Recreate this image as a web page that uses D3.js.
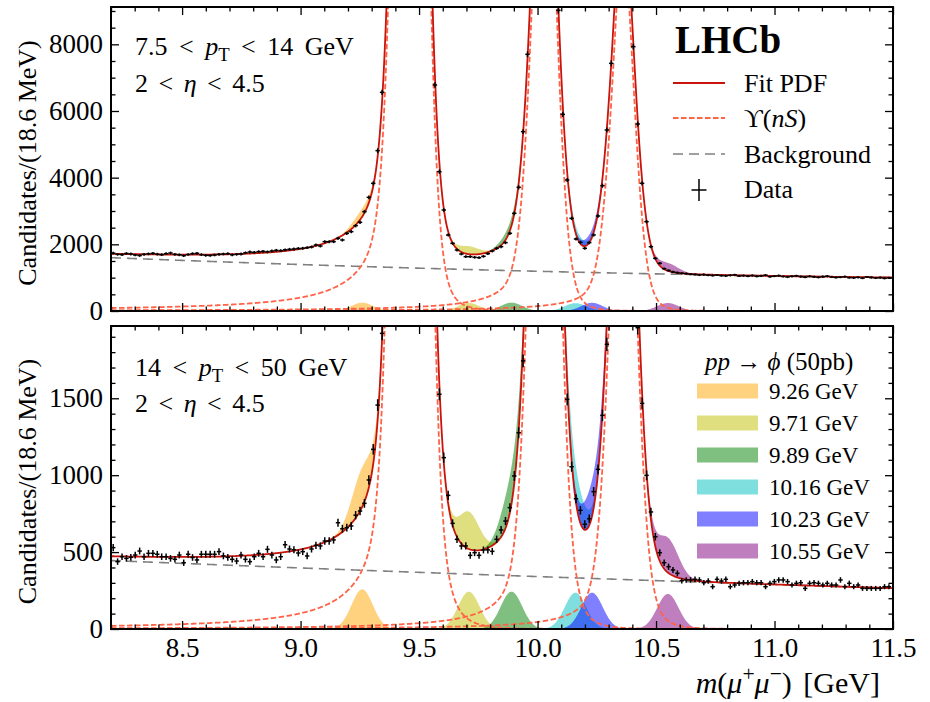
<!DOCTYPE html>
<html>
<head>
<meta charset="utf-8">
<script src="https://cdn.jsdelivr.net/npm/d3@7"></script>
<style>
	body { margin: 0; background: #fff; }
	text { white-space: pre; }
</style>
</head>
<body>
<svg id="chart" width="930" height="702"></svg>
<script>
// binning of the mass histogram
const binStart = 8.2;
const binWidth = 0.0186;

// candidates per bin, 7.5 < pT < 14 GeV
const countsTop = [
	1735, 1700, 1690, 1725, 1710, 1680, 1665, 1700, 1715, 1730,
	1705, 1690, 1720, 1740, 1700, 1685, 1660, 1695, 1720, 1730,
	1690, 1670, 1665, 1680, 1700, 1710, 1720, 1685, 1700, 1710,
	1745, 1770, 1760, 1780, 1790, 1775, 1800, 1820, 1810, 1835,
	1850, 1860, 1875, 1880, 1900, 1920, 1980, 1950, 2080, 2080,
	2080, 2180, 2130, 2330, 2380, 2560, 2660, 2980, 3410, 3830,
	4810, 6560, 9370, 14050, 20500, 29000, 38800, 45700, 43700, 36100,
	26500, 17600, 10960, 6780, 4180, 3030, 2280, 2030, 1830, 1710,
	1630, 1630, 1610, 1600, 1640, 1720, 1800, 1880, 1930, 2050,
	2330, 2930, 3710, 5380, 7700, 11070, 14700, 18100, 18350, 15900,
	12300, 9020, 5900, 3930, 2780, 2160, 2060, 1880, 2050, 2280,
	2850, 3760, 5430, 7430, 9800, 11900, 12000, 10400, 7930, 5610,
	3830, 2680, 1930, 1580, 1430, 1270, 1215, 1170, 1150, 1130,
	1120, 1105, 1095, 1080, 1090, 1075, 1065, 1080, 1060, 1055,
	1070, 1085, 1050, 1060, 1045, 1065, 1040, 1055, 1075, 1030,
	1045, 1060, 1035, 1020, 1040, 1055, 1030, 1015, 1040, 1025,
	1010, 1030, 1045, 1020, 1005, 1015, 1030, 1000, 995, 1010,
	985, 1020, 1005, 990, 1000, 980, 995
];

// candidates per bin, 14 < pT < 50 GeV
const countsBot = [
	529, 438, 470, 459, 466, 481, 507, 470, 492, 492,
	486, 470, 470, 459, 453, 481, 431, 486, 465, 449,
	486, 486, 486, 486, 503, 475, 466, 453, 442, 481,
	453, 438, 470, 492, 470, 518, 481, 449, 470, 548,
	520, 515, 494, 503, 475, 520, 544, 540, 572, 572,
	579, 691, 652, 659, 670, 740, 767, 817, 969, 1168,
	1456, 1922, 2880, 4400, 6600, 9300, 12600, 14900, 14400, 12100,
	9000, 6100, 3900, 2400, 1526, 1114, 869, 687, 583, 540,
	540, 479, 496, 479, 514, 514, 505, 583, 644, 702,
	789, 995, 1276, 1743, 2700, 3840, 5000, 6300, 6900, 6600,
	5400, 3390, 2280, 1493, 1055, 847, 772, 681, 717, 893,
	1038, 1389, 1851, 2830, 3500, 4100, 4250, 3800, 3050, 1959,
	1467, 999, 761, 600, 496, 431, 405, 384, 362, 314,
	319, 319, 323, 319, 301, 312, 275, 323, 312, 323,
	275, 286, 297, 301, 301, 308, 301, 301, 275, 297,
	308, 319, 319, 308, 286, 297, 301, 264, 297, 301,
	297, 286, 297, 286, 286, 319, 275, 297, 275, 286,
	264, 264, 264, 264, 264, 275, 275
];

// fit model: Upsilon(1S,2S,3S) peaks
const upsMass = [9.4603, 10.0252, 10.357];
const upsAmpTop = [44560, 17300, 11100];
const upsAmpBot = [14700, 6700, 4400];
const coreFrac = 0.527;
const coreSigma = 0.0516;
// tail widths / powers: [left w, left p, right w, right p]
const tailsTop = [0.033, 0.75, 0.096, 2.5];
const tailsBot = [0.033, 0.80, 0.105, 2.5];
// background polynomial in (m - 8.2)
const bgTop = [1600, -282.6, 31.0];
const bgBot = [445, -62, 2.3];

// injected signal hypotheses, pp -> phi (50pb)
const sigMass = [9.26, 9.71, 9.89, 10.16, 10.23, 10.55];
const sigLabels = ["9.26 GeV", "9.71 GeV", "9.89 GeV", "10.16 GeV", "10.23 GeV", "10.55 GeV"];
const sigTop = [250, 240, 250, 235, 245, 240];
const sigBot = [258, 243, 243, 236, 236, 228];
const sigWidth = 0.045;

const yTicksTop = [0, 2000, 4000, 6000, 8000];
const yTicksBot = [0, 500, 1000, 1500];
const xTicks = [8.5, 9.0, 9.5, 10.0, 10.5, 11.0, 11.5];

const sigColors = ["orange", "#bfbf00", "green", "#00bfbf", "blue", "purple"];
const fitColor = "#c8140a";
const upsColor = "#ff6347";
const bgColor = "#808080";
const serif = '"Liberation Serif", "DejaVu Serif", serif';

const svg = d3.select("#chart");
svg.append("rect").attr("width", 930).attr("height", 702).attr("fill", "#fff");

const x = d3.scaleLinear().domain([8.2, 11.5]).range([111, 893]);

const panels = [
	{ name: "top", top: 7, bottom: 311, yMax: 9120, minor: 500, ticks: yTicksTop,
	  counts: countsTop, amps: upsAmpTop, tails: tailsTop, bg: bgTop, sig: sigTop },
	{ name: "bot", top: 326, bottom: 629, yMax: 1970, minor: 100, ticks: yTicksBot,
	  counts: countsBot, amps: upsAmpBot, tails: tailsBot, bg: bgBot, sig: sigBot }
];

function upsShape(m, mass, amp, t) {
	const d = m - mass;
	const core = coreFrac * Math.exp(-d * d / (2 * coreSigma * coreSigma));
	const w = d < 0 ? t[0] : t[2];
	const pw = d < 0 ? t[1] : t[3];
	const tail = (1 - coreFrac) * Math.pow(1 + (d / w) * (d / w), -pw);
	return amp * (core + tail);
}
const bgAt = (m, b) => { const u = m - 8.2; return b[0] + b[1] * u + b[2] * u * u; };
const fitAt = (m, p) => bgAt(m, p.bg) + d3.sum(upsMass, (mu, i) => upsShape(m, mu, p.amps[i], p.tails));
const gauss = (m, mu, h) => h * Math.exp(-(m - mu) * (m - mu) / (2 * sigWidth * sigWidth));

const ms = d3.range(0, 1651).map(i => 8.2 + i * 0.002);

function richText(parent, tx, ty, size, parts, anchor, spacing) {
	const t = parent.append("text")
		.attr("x", tx).attr("y", ty)
		.attr("font-size", size)
		.attr("font-family", serif)
		.attr("text-anchor", anchor || "start")
		.attr("word-spacing", spacing || 0)
		.attr("fill", "#000");
	let shift = 0;
	parts.forEach(pt => {
		const str = typeof pt === "string" ? pt : pt[0];
		const style = typeof pt === "string" ? "" : pt[1];
		const s = t.append("tspan").text(str);
		if (style.includes("i")) s.attr("font-style", "italic");
		let target = 0;
		if (style.includes("_")) target = size * 0.22;
		if (style.includes("^")) target = -size * 0.4;
		if (target !== 0) s.attr("font-size", size * 0.72);
		if (target !== shift) { s.attr("dy", target - shift); shift = target; }
	});
	return t;
}

panels.forEach(p => {
	const y = d3.scaleLinear().domain([0, p.yMax]).range([p.bottom, p.top]);

	svg.append("clipPath").attr("id", "clip-" + p.name)
		.append("rect")
		.attr("x", 111).attr("y", p.top)
		.attr("width", 782).attr("height", p.bottom - p.top);

	const g = svg.append("g").attr("clip-path", `url(#clip-${p.name})`);

	// signal hypotheses stacked on the fit
	sigMass.forEach((mu, i) => {
		const pts = ms.filter(m => Math.abs(m - mu) < 0.3);
		g.append("path").datum(pts)
			.attr("d", d3.area()
				.x(m => x(m))
				.y0(m => y(fitAt(m, p)))
				.y1(m => y(fitAt(m, p) + gauss(m, mu, p.sig[i]))))
			.attr("fill", sigColors[i]).attr("fill-opacity", 0.5);
	});
	// signal hypotheses alone
	sigMass.forEach((mu, i) => {
		const pts = ms.filter(m => Math.abs(m - mu) < 0.3);
		g.append("path").datum(pts)
			.attr("d", d3.area()
				.x(m => x(m))
				.y0(y(0))
				.y1(m => y(gauss(m, mu, p.sig[i]))))
			.attr("fill", sigColors[i]).attr("fill-opacity", 0.5);
	});

	g.append("path").datum(ms)
		.attr("d", d3.line().x(m => x(m)).y(m => y(bgAt(m, p.bg))))
		.attr("fill", "none").attr("stroke", bgColor).attr("stroke-width", 1.6)
		.attr("stroke-dasharray", "10,6");

	upsMass.forEach((mu, i) => {
		g.append("path").datum(ms)
			.attr("d", d3.line().x(m => x(m)).y(m => Math.max(y(upsShape(m, mu, p.amps[i], p.tails)), -50)))
			.attr("fill", "none").attr("stroke", upsColor).attr("stroke-width", 1.8)
			.attr("stroke-dasharray", "5.5,2.5");
	});

	g.append("path").datum(ms)
		.attr("d", d3.line().x(m => x(m)).y(m => Math.max(y(fitAt(m, p)), -50)))
		.attr("fill", "none").attr("stroke", fitColor).attr("stroke-width", 1.8);

	// data points with Poisson errors
	const pts = p.counts.map((v, k) => ({ c: binStart + (k + 0.5) * binWidth, v }))
		.filter(d => d.v < p.yMax);
	g.selectAll(".ebar").data(pts).join("line")
		.attr("x1", d => x(d.c)).attr("x2", d => x(d.c))
		.attr("y1", d => y(d.v - Math.sqrt(d.v))).attr("y2", d => y(d.v + Math.sqrt(d.v)))
		.attr("stroke", "#000").attr("stroke-width", 1.5);
	g.selectAll(".hbar").data(pts).join("line")
		.attr("x1", d => x(d.c - binWidth / 2)).attr("x2", d => x(d.c + binWidth / 2))
		.attr("y1", d => y(d.v)).attr("y2", d => y(d.v))
		.attr("stroke", "#000").attr("stroke-width", 1.5);

	// axes: ticks inward on all four sides
	const ax = svg.append("g");
	const xMinor = d3.range(82, 116).map(v => v / 10).filter(v => Math.abs(v * 2 - Math.round(v * 2)) > 1e-6);
	const yMinor = d3.range(0, p.yMax, p.minor).filter(v => !p.ticks.includes(v));
	const style = sel => {
		sel.select(".domain").remove();
		sel.selectAll("line").attr("stroke", "#000").attr("stroke-width", 1.3);
		sel.selectAll("text").attr("font-family", serif).attr("font-size", 27).attr("fill", "#000");
	};
	const isBottom = p.name === "bot";
	ax.append("g").attr("transform", `translate(0,${p.bottom})`)
		.call(d3.axisBottom(x).tickValues(xTicks).tickSize(-8).tickSizeOuter(0).tickPadding(9)
			.tickFormat(isBottom ? d3.format(".1f") : () => ""))
		.call(style);
	ax.append("g").attr("transform", `translate(0,${p.bottom})`)
		.call(d3.axisBottom(x).tickValues(xMinor).tickSize(-4.5).tickSizeOuter(0).tickFormat(() => ""))
		.call(style);
	ax.append("g").attr("transform", `translate(0,${p.top})`)
		.call(d3.axisTop(x).tickValues(xTicks).tickSize(-8).tickSizeOuter(0).tickFormat(() => ""))
		.call(style);
	ax.append("g").attr("transform", `translate(0,${p.top})`)
		.call(d3.axisTop(x).tickValues(xMinor).tickSize(-4.5).tickSizeOuter(0).tickFormat(() => ""))
		.call(style);
	ax.append("g").attr("transform", "translate(111,0)")
		.call(d3.axisLeft(y).tickValues(p.ticks).tickSize(-8).tickSizeOuter(0).tickPadding(8).tickFormat(d3.format("d")))
		.call(style);
	ax.append("g").attr("transform", "translate(111,0)")
		.call(d3.axisLeft(y).tickValues(yMinor).tickSize(-4.5).tickSizeOuter(0).tickFormat(() => ""))
		.call(style);
	ax.append("g").attr("transform", "translate(893,0)")
		.call(d3.axisRight(y).tickValues(p.ticks).tickSize(-8).tickSizeOuter(0).tickFormat(() => ""))
		.call(style);
	ax.append("g").attr("transform", "translate(893,0)")
		.call(d3.axisRight(y).tickValues(yMinor).tickSize(-4.5).tickSizeOuter(0).tickFormat(() => ""))
		.call(style);

	ax.append("rect")
		.attr("x", 111).attr("y", p.top)
		.attr("width", 782).attr("height", p.bottom - p.top)
		.attr("fill", "none").attr("stroke", "#000").attr("stroke-width", 2);

	const mid = (p.top + p.bottom) / 2 + 4;
	svg.append("text")
		.attr("transform", `translate(36,${mid}) rotate(-90)`)
		.attr("text-anchor", "middle")
		.attr("font-family", serif).attr("font-size", 26)
		.text("Candidates/(18.6 MeV)");
});

// kinematic ranges
richText(svg, 135, 55, 26, ["7.5 < ", ["p", "i"], ["T", "_"], " < 14 GeV"], "start", 5);
richText(svg, 135, 92, 26, ["2 < ", ["η", "i"], " < 4.5"], "start", 4);
richText(svg, 135, 376, 26, ["14 < ", ["p", "i"], ["T", "_"], " < 50 GeV"], "start", 5);
richText(svg, 135, 412, 26, ["2 < ", ["η", "i"], " < 4.5"], "start", 4);

svg.append("text").attr("x", 675).attr("y", 53)
	.attr("font-family", serif).attr("font-size", 39).attr("font-weight", "bold")
	.text("LHCb");

// top legend
const leg = svg.append("g");
leg.append("line").attr("x1", 673).attr("x2", 725).attr("y1", 83).attr("y2", 83)
	.attr("stroke", fitColor).attr("stroke-width", 1.8);
richText(leg, 744, 92, 26, ["Fit PDF"]);
leg.append("line").attr("x1", 673).attr("x2", 725).attr("y1", 118).attr("y2", 118)
	.attr("stroke", upsColor).attr("stroke-width", 1.8).attr("stroke-dasharray", "5.5,2.5");
richText(leg, 744, 127, 26, ["ϒ(", ["nS", "i"], ")"]);
leg.append("line").attr("x1", 673).attr("x2", 725).attr("y1", 154).attr("y2", 154)
	.attr("stroke", bgColor).attr("stroke-width", 1.6).attr("stroke-dasharray", "10,6");
richText(leg, 744, 163, 26, ["Background"]);
leg.append("line").attr("x1", 699).attr("x2", 699).attr("y1", 179).attr("y2", 201)
	.attr("stroke", "#000").attr("stroke-width", 1.5);
leg.append("line").attr("x1", 691.5).attr("x2", 706.5).attr("y1", 190).attr("y2", 190)
	.attr("stroke", "#000").attr("stroke-width", 1.5);
richText(leg, 744, 198, 26, ["Data"]);

// bottom legend
richText(svg, 705, 370, 25, [["pp", "i"], " → ", ["ϕ", "i"], " (50pb)"]);
sigLabels.forEach((lab, i) => {
	const cy = 391 + 32 * i;
	svg.append("rect").attr("x", 697).attr("y", cy - 7.5).attr("width", 61).attr("height", 15)
		.attr("fill", sigColors[i]).attr("fill-opacity", 0.5);
	richText(svg, 769, cy + 8, 23, [lab]);
});

richText(svg, 880, 693, 30, [["m", "i"], "(", ["μ", "i"], ["+", "^"], ["μ", "i"], ["−", "^"], ")", " [GeV]"], "end", 4);
</script>
</body>
</html>
